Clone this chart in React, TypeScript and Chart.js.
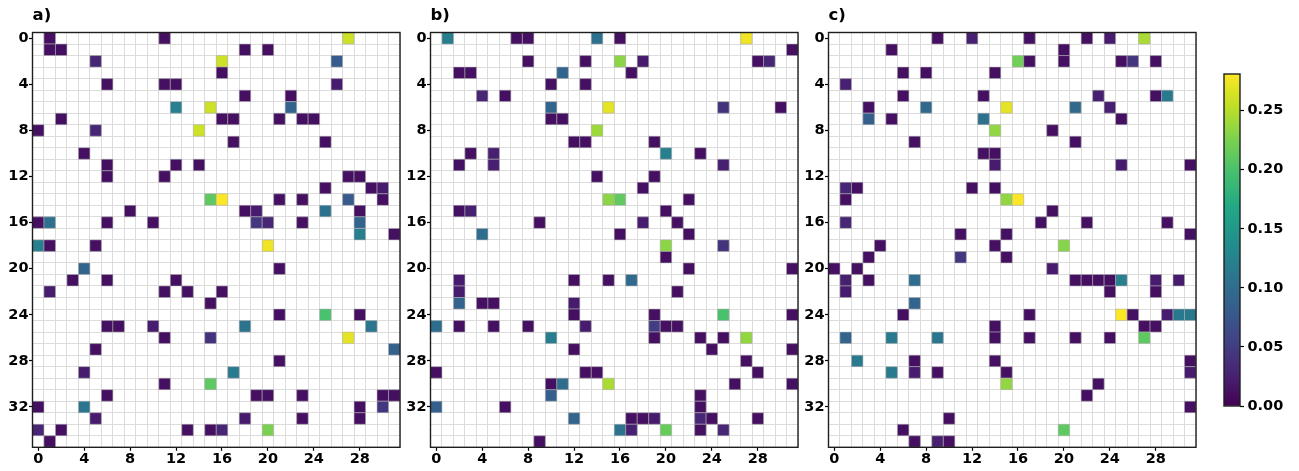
import React, { useEffect, useRef } from "react";
import { Chart, registerables } from "chart.js";

Chart.register(...registerables);

// ---------------- data ----------------
type Cell = [number, number, number]; // [row, column, value]

const N_COLS = 32;
const N_ROWS = 36;
const xTickLabels = [0, 4, 8, 12, 16, 20, 24, 28];
const yTickLabels = [0, 4, 8, 12, 16, 20, 24, 28, 32];
const colorbarTicks = [0, 0.05, 0.1, 0.15, 0.2, 0.25];
const V_MIN = 0;
const V_MAX = 0.281;
const panelTitles = ["a)", "b)", "c)"];

const cellsA: Cell[] = [
  [0, 1, 0.012], [0, 11, 0.012], [0, 27, 0.26],
  [1, 1, 0.012], [1, 2, 0.012], [1, 18, 0.012], [1, 20, 0.012],
  [2, 5, 0.03], [2, 16, 0.26], [2, 26, 0.08],
  [3, 16, 0.012],
  [4, 6, 0.012], [4, 11, 0.012], [4, 12, 0.012], [4, 26, 0.022],
  [5, 18, 0.012], [5, 22, 0.012],
  [6, 12, 0.12], [6, 15, 0.26], [6, 22, 0.09],
  [7, 2, 0.012], [7, 16, 0.012], [7, 17, 0.012], [7, 21, 0.012], [7, 23, 0.012], [7, 24, 0.012],
  [8, 0, 0.012], [8, 5, 0.03], [8, 14, 0.26],
  [9, 17, 0.012], [9, 25, 0.012],
  [10, 4, 0.012],
  [11, 6, 0.012], [11, 12, 0.012], [11, 14, 0.012],
  [12, 6, 0.012], [12, 11, 0.012], [12, 27, 0.012], [12, 28, 0.012],
  [13, 25, 0.012], [13, 29, 0.012], [13, 30, 0.022],
  [14, 15, 0.21], [14, 16, 0.28], [14, 21, 0.012], [14, 23, 0.012], [14, 27, 0.08], [14, 30, 0.012],
  [15, 8, 0.012], [15, 18, 0.012], [15, 19, 0.022], [15, 25, 0.105], [15, 28, 0.012],
  [16, 0, 0.012], [16, 1, 0.105], [16, 6, 0.012], [16, 10, 0.012], [16, 19, 0.045], [16, 20, 0.03], [16, 23, 0.012], [16, 28, 0.09],
  [17, 28, 0.12], [17, 31, 0.012],
  [18, 0, 0.12], [18, 1, 0.012], [18, 5, 0.012], [18, 20, 0.275],
  [20, 4, 0.09], [20, 21, 0.012],
  [21, 3, 0.012], [21, 6, 0.012], [21, 12, 0.012],
  [22, 1, 0.022], [22, 11, 0.012], [22, 13, 0.012], [22, 16, 0.012],
  [23, 15, 0.012],
  [24, 21, 0.012], [24, 25, 0.2], [24, 28, 0.012],
  [25, 6, 0.012], [25, 7, 0.012], [25, 10, 0.022], [25, 18, 0.108], [25, 29, 0.11],
  [26, 11, 0.012], [26, 15, 0.04], [26, 27, 0.27],
  [27, 5, 0.012], [27, 31, 0.088],
  [28, 21, 0.012],
  [29, 4, 0.022], [29, 17, 0.115],
  [30, 11, 0.012], [30, 15, 0.21],
  [31, 6, 0.012], [31, 19, 0.012], [31, 20, 0.012], [31, 23, 0.012], [31, 30, 0.012], [31, 31, 0.012],
  [32, 0, 0.012], [32, 4, 0.11], [32, 28, 0.012], [32, 30, 0.045],
  [33, 5, 0.022], [33, 18, 0.022], [33, 23, 0.012], [33, 28, 0.012],
  [34, 0, 0.03], [34, 2, 0.012], [34, 13, 0.012], [34, 15, 0.012], [34, 16, 0.03], [34, 20, 0.225],
  [35, 1, 0.012],
];

const cellsB: Cell[] = [
  [0, 1, 0.118], [0, 7, 0.012], [0, 8, 0.012], [0, 14, 0.105], [0, 16, 0.012], [0, 27, 0.275],
  [1, 31, 0.012],
  [2, 8, 0.012], [2, 13, 0.012], [2, 16, 0.232], [2, 18, 0.022], [2, 28, 0.012], [2, 29, 0.03],
  [3, 2, 0.012], [3, 3, 0.012], [3, 11, 0.09], [3, 17, 0.012],
  [4, 10, 0.012], [4, 13, 0.012],
  [5, 4, 0.03], [5, 6, 0.012],
  [6, 10, 0.09], [6, 15, 0.27], [6, 25, 0.04], [6, 30, 0.012],
  [7, 10, 0.012], [7, 11, 0.012],
  [8, 14, 0.24],
  [9, 12, 0.012], [9, 13, 0.012], [9, 19, 0.012],
  [10, 3, 0.012], [10, 5, 0.025], [10, 20, 0.12], [10, 23, 0.012],
  [11, 2, 0.012], [11, 5, 0.025], [11, 25, 0.025],
  [12, 14, 0.012], [12, 19, 0.012],
  [13, 18, 0.012],
  [14, 15, 0.232], [14, 16, 0.212], [14, 22, 0.012],
  [15, 2, 0.012], [15, 3, 0.025], [15, 20, 0.012],
  [16, 9, 0.012], [16, 18, 0.022], [16, 21, 0.012],
  [17, 4, 0.1], [17, 16, 0.012], [17, 22, 0.012],
  [18, 20, 0.232], [18, 25, 0.04],
  [19, 20, 0.012],
  [20, 22, 0.012], [20, 31, 0.012],
  [21, 2, 0.022], [21, 12, 0.012], [21, 15, 0.012], [21, 17, 0.095],
  [22, 2, 0.022], [22, 21, 0.012],
  [23, 2, 0.09], [23, 4, 0.012], [23, 5, 0.012], [23, 12, 0.022],
  [24, 12, 0.012], [24, 19, 0.012], [24, 25, 0.2], [24, 31, 0.012],
  [25, 0, 0.1], [25, 2, 0.012], [25, 5, 0.012], [25, 8, 0.012], [25, 13, 0.022], [25, 19, 0.05], [25, 20, 0.012], [25, 21, 0.012],
  [26, 10, 0.118], [26, 19, 0.012], [26, 23, 0.012], [26, 25, 0.012], [26, 27, 0.235],
  [27, 12, 0.012], [27, 24, 0.012], [27, 31, 0.012],
  [28, 27, 0.012],
  [29, 0, 0.012], [29, 13, 0.012], [29, 14, 0.012], [29, 28, 0.012],
  [30, 10, 0.012], [30, 11, 0.1], [30, 15, 0.245], [30, 26, 0.012], [30, 31, 0.012],
  [31, 10, 0.085], [31, 23, 0.012],
  [32, 0, 0.085], [32, 6, 0.012], [32, 23, 0.012],
  [33, 12, 0.09], [33, 17, 0.012], [33, 18, 0.012], [33, 19, 0.022], [33, 23, 0.03], [33, 24, 0.012], [33, 28, 0.012],
  [34, 16, 0.108], [34, 17, 0.025], [34, 20, 0.215], [34, 23, 0.012], [34, 25, 0.03],
  [35, 9, 0.012],
];

const cellsC: Cell[] = [
  [0, 9, 0.012], [0, 12, 0.025], [0, 17, 0.012], [0, 22, 0.012], [0, 24, 0.022], [0, 27, 0.245],
  [1, 5, 0.012], [1, 20, 0.012],
  [2, 16, 0.22], [2, 17, 0.012], [2, 20, 0.012], [2, 25, 0.012], [2, 26, 0.045], [2, 28, 0.012],
  [3, 6, 0.012], [3, 8, 0.012], [3, 14, 0.012],
  [4, 1, 0.025],
  [5, 6, 0.012], [5, 13, 0.012], [5, 23, 0.025], [5, 28, 0.012], [5, 29, 0.115],
  [6, 3, 0.012], [6, 8, 0.095], [6, 15, 0.27], [6, 21, 0.095], [6, 24, 0.025],
  [7, 3, 0.085], [7, 5, 0.012], [7, 13, 0.105], [7, 25, 0.012],
  [8, 14, 0.235], [8, 19, 0.012],
  [9, 7, 0.012], [9, 21, 0.012],
  [10, 13, 0.012], [10, 14, 0.012],
  [11, 14, 0.022], [11, 25, 0.022], [11, 31, 0.012],
  [13, 1, 0.03], [13, 2, 0.012], [13, 12, 0.012], [13, 14, 0.012],
  [14, 1, 0.012], [14, 15, 0.235], [14, 16, 0.28],
  [15, 19, 0.012],
  [16, 1, 0.03], [16, 18, 0.012], [16, 22, 0.012], [16, 29, 0.012],
  [17, 11, 0.012], [17, 15, 0.012], [17, 31, 0.012],
  [18, 4, 0.012], [18, 14, 0.012], [18, 20, 0.23],
  [19, 3, 0.012], [19, 11, 0.045], [19, 15, 0.012],
  [20, 0, 0.012], [20, 2, 0.012], [20, 19, 0.022],
  [21, 1, 0.025], [21, 3, 0.012], [21, 7, 0.1], [21, 21, 0.012], [21, 22, 0.012], [21, 23, 0.012], [21, 24, 0.012], [21, 25, 0.12], [21, 28, 0.022], [21, 30, 0.022],
  [22, 1, 0.022], [22, 24, 0.012], [22, 28, 0.012],
  [23, 7, 0.09],
  [24, 6, 0.012], [24, 17, 0.012], [24, 25, 0.28], [24, 26, 0.012], [24, 29, 0.022], [24, 30, 0.112], [24, 31, 0.112],
  [25, 14, 0.012], [25, 27, 0.012], [25, 28, 0.012],
  [26, 1, 0.09], [26, 5, 0.115], [26, 9, 0.11], [26, 14, 0.012], [26, 17, 0.012], [26, 21, 0.012], [26, 24, 0.012], [26, 27, 0.21],
  [28, 2, 0.115], [28, 7, 0.012], [28, 14, 0.012], [28, 31, 0.012],
  [29, 5, 0.115], [29, 7, 0.022], [29, 9, 0.012], [29, 15, 0.012], [29, 31, 0.022],
  [30, 15, 0.235], [30, 23, 0.012],
  [31, 22, 0.012],
  [32, 31, 0.012],
  [33, 10, 0.012],
  [34, 6, 0.012], [34, 20, 0.21],
  [35, 7, 0.012], [35, 9, 0.025], [35, 10, 0.012],
];

// ---------------- styling helpers ----------------
const VIRIDIS = [
  "#440154", "#482475", "#414487", "#355f8d", "#2a788e", "#21918c",
  "#22a884", "#44bf70", "#7ad151", "#bddf26", "#fde725",
];

function hexToRgb(h: string): number[] {
  return [1, 3, 5].map((i) => parseInt(h.slice(i, i + 2), 16));
}

function viridis(t: number): string {
  const tt = Math.max(0, Math.min(1, t));
  const s = tt * (VIRIDIS.length - 1);
  const i = Math.min(VIRIDIS.length - 2, Math.floor(s));
  const f = s - i;
  const a = hexToRgb(VIRIDIS[i]);
  const b = hexToRgb(VIRIDIS[i + 1]);
  const c = a.map((v, k) => Math.round(v + (b[k] - v) * f));
  return `rgb(${c[0]},${c[1]},${c[2]})`;
}

const FONT_FAMILY = "'DejaVu Sans', sans-serif";
const tickFont = { family: FONT_FAMILY, size: 14.5, weight: "bold" as const };

const framePlugin = {
  id: "frame",
  afterDraw(chart: any) {
    const { ctx, chartArea } = chart;
    ctx.save();
    ctx.strokeStyle = "#1e1e1e";
    ctx.lineWidth = 1.4;
    ctx.strokeRect(chartArea.left, chartArea.top, chartArea.right - chartArea.left, chartArea.bottom - chartArea.top);
    ctx.restore();
  },
};

function boundaryTicks(n: number, labels: number[]) {
  const vals: number[] = [];
  for (let i = 0; i <= n; i++) vals.push(i - 0.5);
  labels.forEach((v) => vals.push(v));
  vals.sort((a, b) => a - b);
  return vals.map((v) => ({ value: v }));
}

const isBoundary = (v: number) => Math.abs(v - Math.round(v)) > 0.25;

// ---------------- components ----------------
const PANEL_W = 410;
const PANEL_H = 471;

function Panel({ cells, title, left }: { cells: Cell[]; title: string; left: number }) {
  const ref = useRef<HTMLCanvasElement>(null);
  useEffect(() => {
    const canvas = ref.current;
    if (!canvas) return;
    const cellSide = (chart: any) => {
      const a = chart.chartArea;
      if (!a) return 5;
      return (a.right - a.left) / N_COLS;
    };
    const chart = new Chart(canvas, {
      type: "scatter",
      data: {
        datasets: [
          {
            data: cells.map(([r, c, v]) => ({ x: c, y: r, v })),
            pointStyle: "rect",
            pointRadius: (ctx: any) => cellSide(ctx.chart) / Math.SQRT2,
            pointHoverRadius: (ctx: any) => cellSide(ctx.chart) / Math.SQRT2,
            backgroundColor: (ctx: any) => viridis(((ctx.raw && ctx.raw.v) - V_MIN) / (V_MAX - V_MIN)),
            borderColor: "rgba(175,175,175,0.55)",
            borderWidth: 1,
          } as any,
        ],
      },
      options: {
        responsive: false,
        animation: false,
        events: [],
        layout: { padding: { left: 0, right: PANEL_W - 400, top: 0, bottom: 0 } },
        plugins: {
          legend: { display: false },
          tooltip: { enabled: false },
          title: {
            display: true,
            text: title,
            align: "start",
            fullSize: false,
            color: "#000",
            font: { family: FONT_FAMILY, size: 16.5, weight: "bold" },
            padding: { top: 6, bottom: 6.7 },
          },
        },
        scales: {
          x: {
            type: "linear",
            min: -0.5,
            max: N_COLS - 0.5,
            afterBuildTicks: (s: any) => {
              s.ticks = boundaryTicks(N_COLS, xTickLabels);
            },
            afterFit: (s: any) => {
              s.height = PANEL_H - 447.3;
            },
            ticks: {
              autoSkip: false,
              maxRotation: 0,
              minRotation: 0,
              padding: 0,
              color: "#000",
              font: tickFont,
              callback: (v: any) => (xTickLabels.includes(v) ? String(v) : ""),
            },
            grid: {
              color: (c: any) => (c.tick && isBoundary(c.tick.value) ? "#dcdcdc" : "rgba(0,0,0,0)"),
              tickColor: (c: any) => (c.tick && isBoundary(c.tick.value) ? "rgba(0,0,0,0)" : "#000"),
              lineWidth: 1,
              tickLength: 3.5,
              tickWidth: 1.2,
            },
            border: { display: false },
          },
          y: {
            type: "linear",
            reverse: true,
            min: -0.5,
            max: N_ROWS - 0.5,
            afterBuildTicks: (s: any) => {
              s.ticks = boundaryTicks(N_ROWS, yTickLabels);
            },
            afterFit: (s: any) => {
              s.width = 32.5;
            },
            ticks: {
              autoSkip: false,
              padding: 0.5,
              color: "#000",
              font: tickFont,
              callback: (v: any) => (yTickLabels.includes(v) ? String(v) : ""),
            },
            grid: {
              color: (c: any) => (c.tick && isBoundary(c.tick.value) ? "#dcdcdc" : "rgba(0,0,0,0)"),
              tickColor: (c: any) => (c.tick && isBoundary(c.tick.value) ? "rgba(0,0,0,0)" : "#000"),
              lineWidth: 1,
              tickLength: 3.5,
              tickWidth: 1.2,
            },
            border: { display: false },
          },
        },
      } as any,
      plugins: [framePlugin],
    });
    return () => chart.destroy();
  }, [cells, title]);
  return (
    <canvas
      ref={ref}
      width={PANEL_W}
      height={PANEL_H}
      style={{ position: "absolute", left, top: 0, width: PANEL_W, height: PANEL_H }}
    />
  );
}

const CB_W = 99;

function Colorbar({ left }: { left: number }) {
  const ref = useRef<HTMLCanvasElement>(null);
  useEffect(() => {
    const canvas = ref.current;
    if (!canvas) return;
    const chart = new Chart(canvas, {
      type: "bar",
      data: {
        labels: [""],
        datasets: [
          {
            data: [[V_MIN, V_MAX]],
            barPercentage: 1,
            categoryPercentage: 1,
            borderWidth: 0,
            backgroundColor: (ctx: any) => {
              const ch = ctx.chart;
              const area = ch.chartArea;
              if (!area) return VIRIDIS[0];
              const ys = ch.scales.y;
              const g = ch.ctx.createLinearGradient(0, ys.getPixelForValue(V_MIN), 0, ys.getPixelForValue(V_MAX));
              VIRIDIS.forEach((col, i) => g.addColorStop(i / (VIRIDIS.length - 1), col));
              return g;
            },
          } as any,
        ],
      },
      options: {
        responsive: false,
        animation: false,
        events: [],
        layout: { padding: { left: 24, right: 0, top: 74, bottom: PANEL_H - 406 } },
        plugins: { legend: { display: false }, tooltip: { enabled: false }, title: { display: false } },
        scales: {
          x: { display: false },
          y: {
            type: "linear",
            position: "right",
            min: V_MIN,
            max: V_MAX,
            afterBuildTicks: (s: any) => {
              s.ticks = colorbarTicks.map((v) => ({ value: v }));
            },
            afterFit: (s: any) => {
              s.width = CB_W - 40;
            },
            ticks: {
              autoSkip: false,
              padding: 3.5,
              color: "#000",
              font: tickFont,
              callback: (v: any) => Number(v).toFixed(2),
            },
            grid: {
              drawOnChartArea: false,
              tickLength: 4,
              tickColor: "#000",
              tickWidth: 1.2,
            },
            border: { display: false },
          },
        },
      } as any,
      plugins: [framePlugin],
    });
    return () => chart.destroy();
  }, []);
  return (
    <canvas
      ref={ref}
      width={CB_W}
      height={PANEL_H}
      style={{ position: "absolute", left, top: 0, width: CB_W, height: PANEL_H }}
    />
  );
}

export default function App() {
  return (
    <div
      style={{
        position: "fixed",
        left: 0,
        top: 0,
        width: 1299,
        height: 471,
        background: "#fff",
        overflow: "hidden",
      }}
    >
      <Panel cells={cellsA} title={panelTitles[0]} left={0} />
      <Panel cells={cellsB} title={panelTitles[1]} left={398} />
      <Panel cells={cellsC} title={panelTitles[2]} left={796} />
      <Colorbar left={1200} />
    </div>
  );
}
